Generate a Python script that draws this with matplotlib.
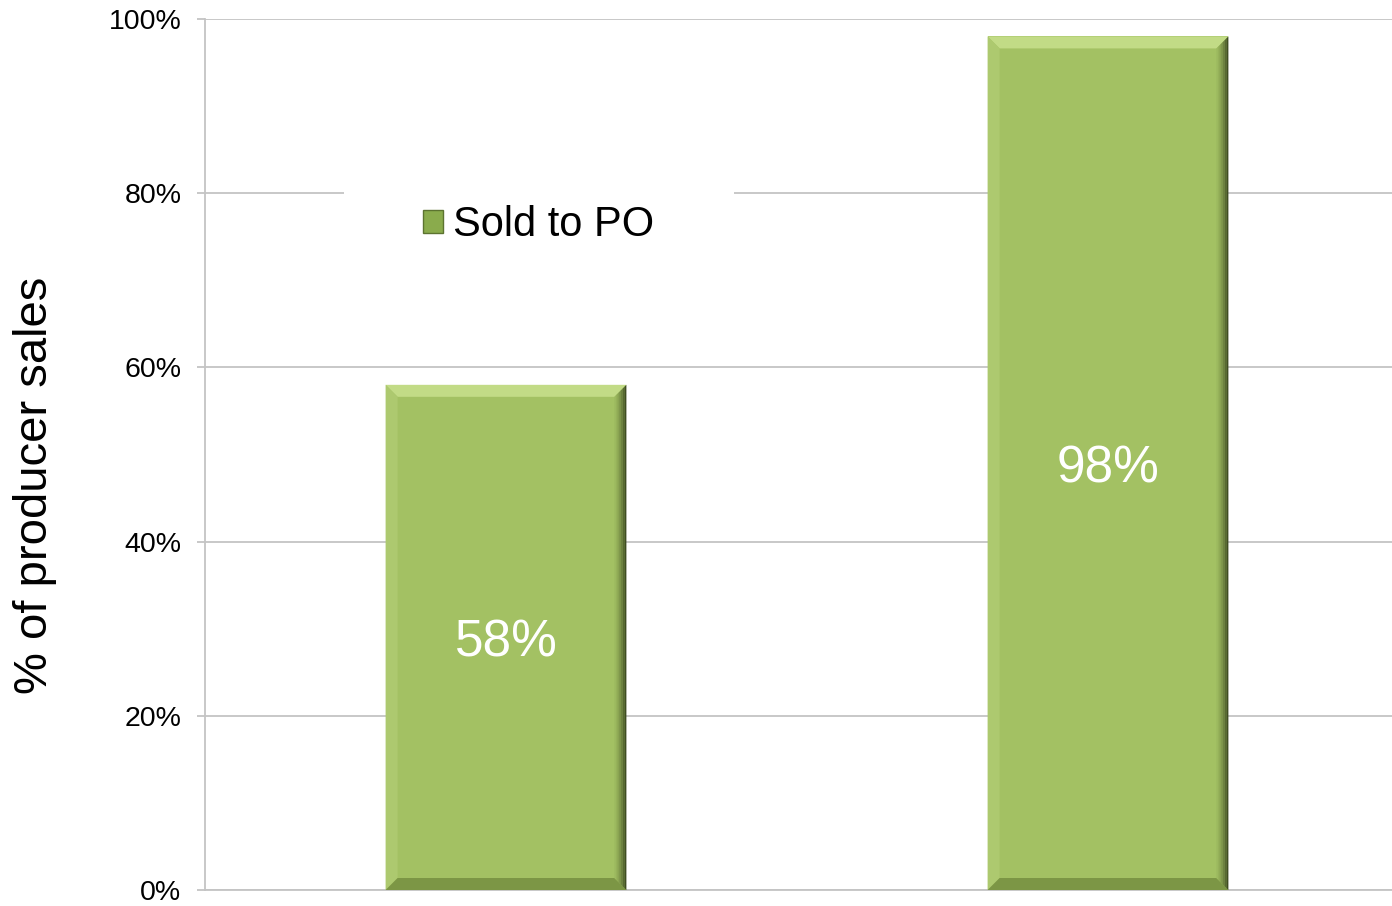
import matplotlib.pyplot as plt
from matplotlib.patches import Polygon, Patch
from matplotlib.colors import to_rgb
import numpy as np

plt.rcParams['font.family'] = ['Liberation Sans', 'DejaVu Sans']

# Data
categories = ['Group A', 'Group B']
sold_to_po = [58, 98]
bar_labels = ['58%', '98%']
yticks = [0, 20, 40, 60, 80, 100]
ytick_labels = ['0%', '20%', '40%', '60%', '80%', '100%']

face = '#a3c163'
top_c = '#c2db86'
left_c = '#adc96f'
right_c = '#3f4d22'
bottom_c = '#7c9645'
grid_c = '#c4c4c4'


def mix(c1, c2, t):
    a, b = np.array(to_rgb(c1)), np.array(to_rgb(c2))
    return tuple(a + (b - a) * t)


def main():
    fig = plt.figure(figsize=(13.92, 9.06), dpi=100)
    W, H = 1392, 906
    ax = fig.add_axes([205 / W, (906 - 890) / H, (1392 - 205) / W, (890 - 19) / H])

    x = np.arange(len(categories))
    width = 0.4
    ax.set_xlim(-0.5, -0.5 + 1187 / 602)
    ax.set_ylim(0, 100)

    ax.bar(x, sold_to_po, width, color=face, zorder=3)

    # bevel sizes in data units (about 12 px)
    bx = 12 / 602
    by = 12 / 8.71
    n = 6
    for xi, v in zip(x, sold_to_po):
        x0, x1 = xi - width / 2, xi + width / 2
        polys = [
            ([(x0, v), (x1, v), (x1 - bx, v - by), (x0 + bx, v - by)], top_c),
            ([(x0, 0), (x0, v), (x0 + bx, v - by), (x0 + bx, by)], left_c),
            ([(x0, 0), (x1, 0), (x1 - bx, by), (x0 + bx, by)], bottom_c),
        ]
        for pts, c in polys:
            ax.add_patch(Polygon(pts, closed=True, facecolor=c, edgecolor='none', zorder=4))
        # right bevel with a gradient toward the dark edge
        for k in range(n):
            t0, t1 = k / n, (k + 1) / n
            xa, xb = x1 - bx * (1 - t0), x1 - bx * (1 - t1)
            ya, yb = by * (1 - t0), by * (1 - t1)
            pts = [(xa, v - ya), (xb, v - yb), (xb, yb), (xa, ya)]
            ax.add_patch(Polygon(pts, closed=True, facecolor=mix(face, right_c, t1 ** 1.5),
                                 edgecolor='none', zorder=4.5))

    for xi, v, lab in zip(x, sold_to_po, bar_labels):
        ax.text(xi, v / 2, lab, ha='center', va='center_baseline', color='white',
                fontsize=37, zorder=6)

    ax.set_yticks(yticks)
    ax.set_yticklabels(ytick_labels, fontsize=20.5)
    ax.set_xticks([])
    ax.yaxis.grid(True, color=grid_c, lw=1.3)
    ax.set_axisbelow(True)
    ax.tick_params(axis='y', length=6, width=1.3, color=grid_c, pad=11)
    for s in ['top', 'right']:
        ax.spines[s].set_visible(False)
    for s in ['left', 'bottom']:
        ax.spines[s].set_color(grid_c)
        ax.spines[s].set_linewidth(1.3)

    ax.set_ylabel('% of producer sales', fontsize=34)
    ax.yaxis.set_label_coords(-0.1247, 0.465)

    handle = Patch(facecolor='#8aab4c', edgecolor='#5c7330', lw=1.0)
    leg = ax.legend([handle], ['Sold to PO'], loc='center',
                    bbox_to_anchor=(0.2814, 0.763), fontsize=30,
                    frameon=True, facecolor='white', edgecolor='none',
                    framealpha=1, fancybox=False, borderpad=1.9,
                    handlelength=0.48, handleheight=0.48, handletextpad=0.24)
    leg.set_zorder(7)

    plt.savefig('out.png', dpi=100)


if __name__ == '__main__':
    main()
